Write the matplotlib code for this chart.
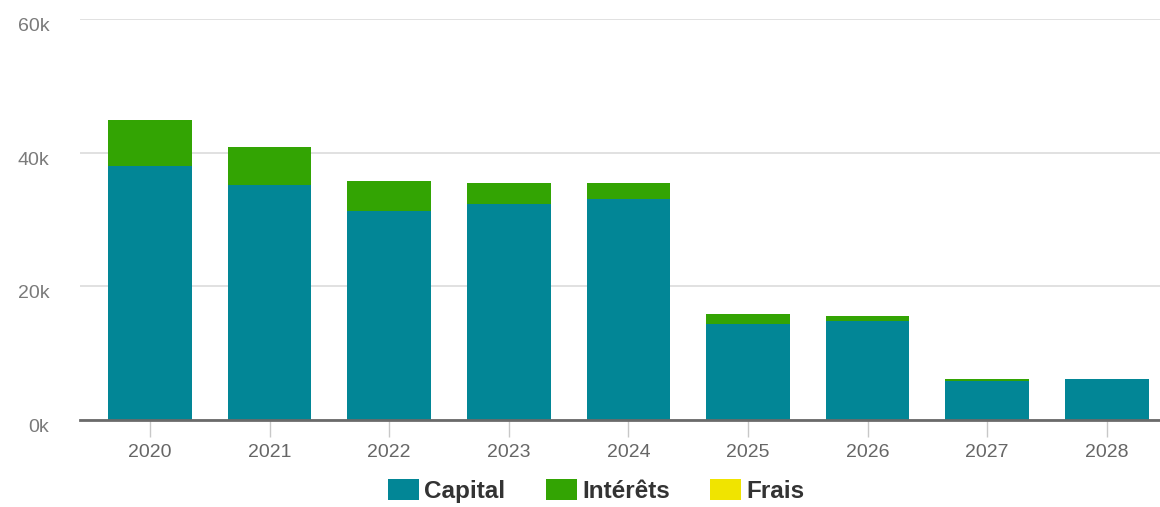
import matplotlib
matplotlib.use("Agg")
import matplotlib.pyplot as plt
import matplotlib.transforms as mtransforms
import numpy as np

years = ["2020", "2021", "2022", "2023", "2024", "2025", "2026", "2027", "2028"]
capital = [38000, 35200, 31200, 32300, 33000, 14300, 14800, 5900, 6200]
interets = [6900, 5700, 4600, 3200, 2500, 1500, 700, 300, 0]
frais = [0, 0, 0, 0, 0, 0, 0, 0, 0]
y_ticks = [0, 20000, 40000, 60000]
y_labels = ["0k", "20k", "40k", "60k"]

series_names = ["Capital", "Intérêts", "Frais"]
series_colors = ["#028696", "#33a403", "#f0e400"]

plt.rcParams["font.family"] = ["Liberation Sans", "DejaVu Sans"]

fig = plt.figure(figsize=(11.6, 5.07), dpi=100)
ax = fig.add_axes([80 / 1160, 87 / 507, 1080 / 1160, 401 / 507])

x = np.arange(len(years))
bottom = np.zeros(len(years))
handles = []
for name, vals, col in zip(series_names, [capital, interets, frais], series_colors):
    vals = np.array(vals, dtype=float)
    h = ax.bar(x, vals, width=0.7, bottom=bottom, color=col, label=name,
               zorder=3, linewidth=0)
    handles.append(h)
    bottom += vals

ax.set_xlim(-0.585, 8.445)
ax.set_ylim(0, 60000)
ax.set_yticks(y_ticks)
ax.set_yticklabels(y_labels)
ax.set_xticks(x)
ax.set_xticklabels(years)

ax.grid(axis="y", color="#dcdcdc", linewidth=1.2, zorder=0)
for side in ["top", "right", "left"]:
    ax.spines[side].set_visible(False)
ax.spines["bottom"].set_color("#6a6a6a")
ax.spines["bottom"].set_linewidth(2)
ax.spines["bottom"].set_zorder(4)

ax.tick_params(axis="x", length=12, width=1, color="#c8c8c8", pad=5,
               labelsize=14, labelcolor="#666666")
ax.tick_params(axis="y", length=0, pad=22, labelsize=14, labelcolor="#7a7a7a")

# nudge the y labels a little below their gridlines
offset = mtransforms.ScaledTranslation(0, -4 / 72, fig.dpi_scale_trans)
for lbl in ax.get_yticklabels():
    lbl.set_transform(lbl.get_transform() + offset)

leg = fig.legend(handles=handles, labels=series_names, loc="center",
                 bbox_to_anchor=(0.514, 0.032), ncol=3, frameon=False,
                 prop={"size": 17.5, "weight": "bold"},
                 handlelength=1.28, handleheight=1.0, handletextpad=0.22,
                 columnspacing=1.65)
for t in leg.get_texts():
    t.set_color("#333333")

fig.savefig("out.png", dpi=100)
